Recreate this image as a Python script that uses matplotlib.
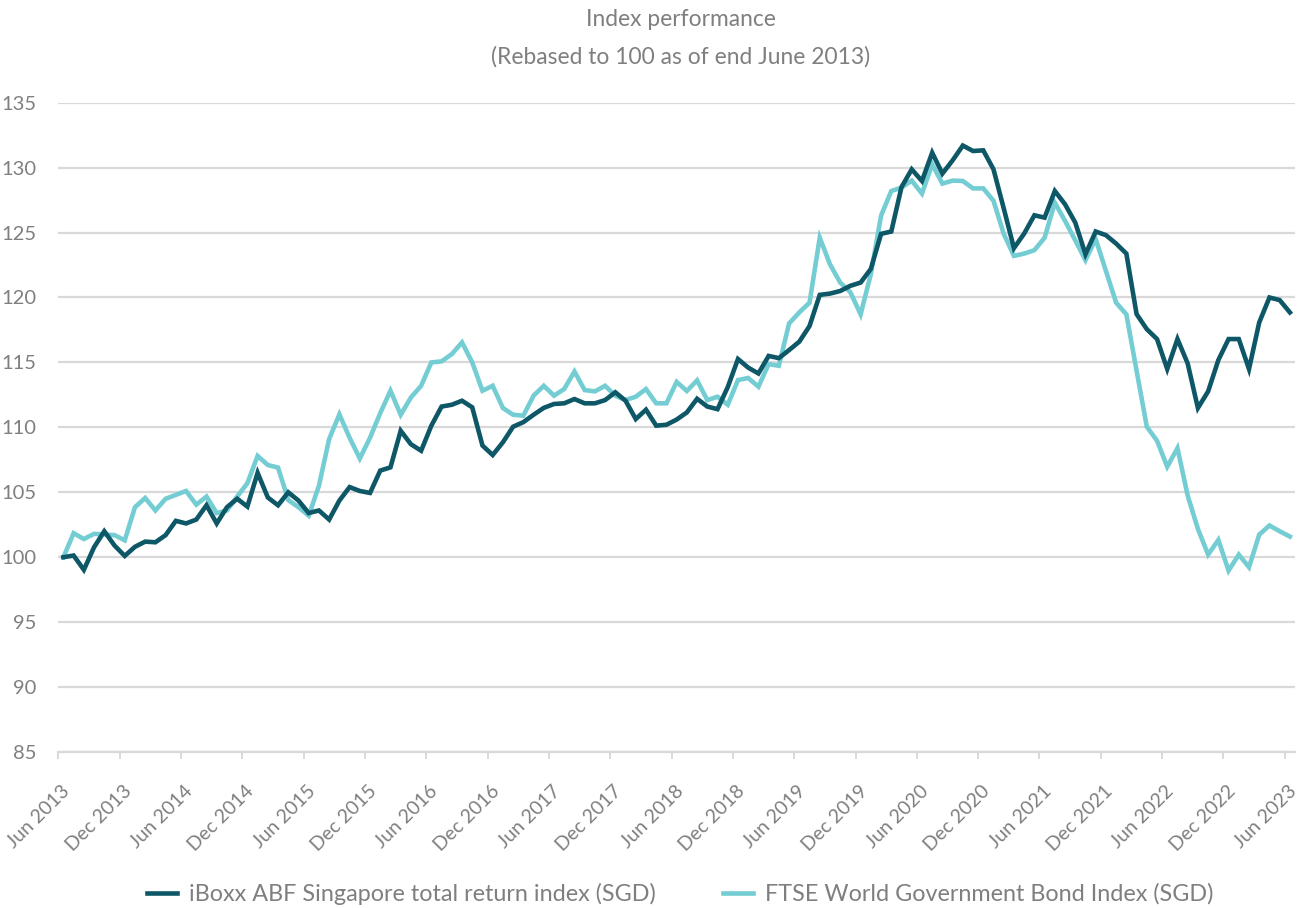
import matplotlib
matplotlib.use("Agg")
import matplotlib.pyplot as plt
from matplotlib.transforms import ScaledTranslation
import numpy as np

# Monthly index levels, end June 2013 = 100 (Jun 2013 .. Jun 2023)
iboxx = [
    100.0, 100.13, 99.03, 100.77, 102.0, 100.9, 100.1, 100.8, 101.2, 101.15,
    101.7, 102.8, 102.6, 102.9, 104.0, 102.6, 103.85, 104.5, 103.9, 106.5,
    104.6, 104.0, 105.0, 104.36, 103.4, 103.6, 102.9, 104.36, 105.4, 105.1,
    104.95, 106.67, 106.92, 109.74, 108.7, 108.2, 110.13, 111.6, 111.74, 112.05,
    111.54, 108.6, 107.87, 108.85, 110.05, 110.4, 110.97, 111.5, 111.8, 111.85,
    112.18, 111.85, 111.85, 112.1, 112.7, 112.05, 110.64, 111.36, 110.13, 110.2,
    110.6, 111.15, 112.2, 111.6, 111.4, 113.1, 115.26, 114.6, 114.15, 115.5,
    115.33, 115.95, 116.6, 117.8, 120.2, 120.3, 120.5, 120.9, 121.15, 122.2,
    124.9, 125.08, 128.5, 129.87, 128.97, 131.15, 129.54, 130.56, 131.7, 131.28,
    131.33, 129.87, 126.87, 123.8, 124.92, 126.33, 126.15, 128.2, 127.18, 125.77,
    123.33, 125.08, 124.8, 124.15, 123.38, 118.72, 117.56, 116.8, 114.49, 116.8,
    114.92, 111.49, 112.77, 115.18, 116.8, 116.8, 114.49, 118.08, 120.0, 119.8,
    118.85,
]
ftse = [
    100.0, 101.85, 101.4, 101.8, 101.75, 101.7, 101.3, 103.85, 104.56, 103.6,
    104.5, 104.8, 105.1, 104.05, 104.67, 103.4, 103.6, 104.67, 105.7, 107.8,
    107.1, 106.9, 104.4, 103.85, 103.2, 105.5, 109.1, 111.0, 109.2, 107.6,
    109.2, 111.1, 112.82, 110.97, 112.3, 113.2, 115.0, 115.08, 115.64, 116.54,
    115.0, 112.82, 113.2, 111.49, 110.97, 110.9, 112.44, 113.2, 112.44, 112.95,
    114.3, 112.87, 112.77, 113.2, 112.44, 112.1, 112.36, 112.95, 111.85, 111.85,
    113.5, 112.8, 113.62, 112.1, 112.36, 111.74, 113.64, 113.8, 113.13, 114.87,
    114.74, 118.0, 118.85, 119.6, 124.6, 122.56, 121.15, 120.4, 118.7, 121.8,
    126.3, 128.2, 128.46, 129.0, 128.0, 130.26, 128.77, 129.0, 128.97, 128.4,
    128.4, 127.45, 124.9, 123.2, 123.38, 123.64, 124.6, 127.3, 125.9, 124.4,
    122.87, 124.5, 122.05, 119.6, 118.7, 114.36, 110.05, 108.97, 106.97, 108.4,
    104.74, 102.18, 100.2, 101.33, 98.97, 100.2, 99.23, 101.74, 102.44, 102.0,
    101.59,
]
series_names = ["iBoxx ABF Singapore total return index (SGD)",
                "FTSE World Government Bond Index (SGD)"]
tick_labels = ["Jun 2013", "Dec 2013", "Jun 2014", "Dec 2014", "Jun 2015", "Dec 2015",
               "Jun 2016", "Dec 2016", "Jun 2017", "Dec 2017", "Jun 2018", "Dec 2018",
               "Jun 2019", "Dec 2019", "Jun 2020", "Dec 2020", "Jun 2021", "Dec 2021",
               "Jun 2022", "Dec 2022", "Jun 2023"]
y_ticks = [85, 90, 95, 100, 105, 110, 115, 120, 125, 130, 135]
title_lines = ["Index performance", "(Rebased to 100 as of end June 2013)"]

DARK = "#0d5767"
LIGHT = "#74cdd3"
GREY_TXT = "#7f7f7f"
GRID = "#d9d9d9"
FONT = "Lato"

plt.rcParams["font.family"] = [FONT, "DejaVu Sans"]

W, H = 1307, 908
fig = plt.figure(figsize=(W / 100, H / 100), dpi=100)
left, right = 58.3 / W, 1295 / W
bottom, top = (H - 752) / H, (H - 102.7) / H
ax = fig.add_axes([left, bottom, right - left, top - bottom])

x = np.arange(len(iboxx))
ax.plot(x, iboxx, color=DARK, lw=3.3, solid_joinstyle="miter", label=series_names[0], zorder=3)
ax.plot(x, ftse, color=LIGHT, lw=3.3, solid_joinstyle="miter", label=series_names[1], zorder=2)

ax.set_xlim(-0.5, len(iboxx) - 0.5)
ax.set_ylim(85, 135)
ax.set_yticks(y_ticks)
ax.set_yticklabels([str(v) for v in y_ticks])
ax.yaxis.grid(True, color=GRID, lw=1.6)
ax.set_axisbelow(True)
for s in ["top", "right", "left"]:
    ax.spines[s].set_visible(False)
ax.spines["bottom"].set_color(GRID)
ax.spines["bottom"].set_linewidth(1.6)
ax.tick_params(axis="y", length=0, pad=16, labelsize=14.5, labelcolor=GREY_TXT)

xt = [i * 6 - 0.5 for i in range(len(tick_labels))]
ax.set_xticks(xt)
ax.set_xticklabels(tick_labels, rotation=45, ha="right", va="top", rotation_mode="anchor")
ax.tick_params(axis="x", length=5, width=1.4, color=GRID, pad=17, labelsize=14,
               labelcolor=GREY_TXT)
offset = ScaledTranslation(3 / 100, 0, fig.dpi_scale_trans)
for lab in ax.get_xticklabels():
    lab.set_transform(lab.get_transform() + offset)

fig.text(681 / W, 1 - 20 / H, title_lines[0], ha="center", va="center",
         fontsize=16.4, color=GREY_TXT)
fig.text(681 / W, 1 - 57 / H, title_lines[1], ha="center", va="center",
         fontsize=16.4, color=GREY_TXT)

handles, labels = ax.get_legend_handles_labels()
fig.legend(handles, labels, loc="center", bbox_to_anchor=(680 / W, 14 / H), ncol=2,
           frameon=False, fontsize=16.8, labelcolor=GREY_TXT, handlelength=1.3,
           handletextpad=0.5, columnspacing=2.9, borderaxespad=0, borderpad=0)

fig.savefig("out.png", dpi=100)
